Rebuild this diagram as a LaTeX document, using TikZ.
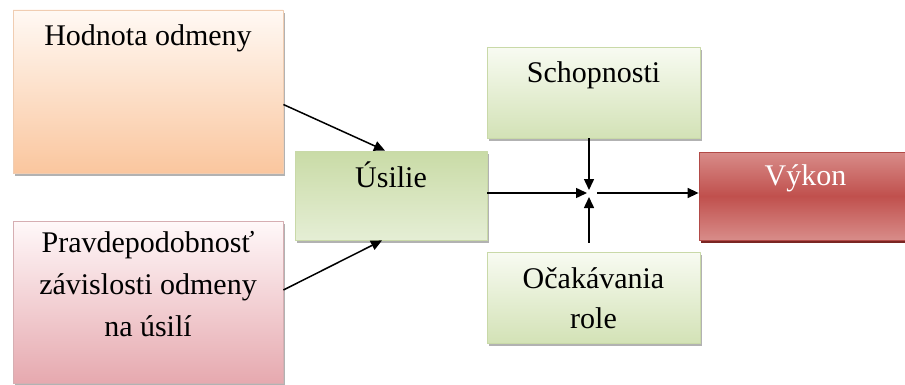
\documentclass[tikz,border=0pt]{standalone}
\usepackage{fontspec}
\setmainfont{Liberation Serif}
\usetikzlibrary{arrows.meta,shadows,calc}
\definecolor{hodtop}{HTML}{FFF9F4}
\definecolor{hodbot}{HTML}{FAC69E}
\definecolor{hodline}{HTML}{F0CDB2}
\definecolor{pratop}{HTML}{FFF8F9}
\definecolor{prabot}{HTML}{E6A9AF}
\definecolor{praline}{HTML}{D6AEB2}
\definecolor{grntop}{HTML}{F8FBF2}
\definecolor{grnbot}{HTML}{D3E2B6}
\definecolor{grnline}{HTML}{C9D9A8}
\definecolor{ustop}{HTML}{C9DBA6}
\definecolor{usbot}{HTML}{E5EED5}
\definecolor{vyktop}{HTML}{D88C89}
\definecolor{vykmid}{HTML}{C0504D}
\definecolor{vykline}{HTML}{B24A47}
\definecolor{vykshadow}{HTML}{7A2522}
\tikzset{
  box/.style={draw, line width=.8pt, inner xsep=0pt, inner ysep=0pt, align=center,
    drop shadow={shadow xshift=2pt, shadow yshift=-3pt, fill=black, opacity=.3}},
  grnbox/.style={box, draw=grnline, top color=grntop, bottom color=grnbot, minimum width=213pt},
}
\begin{document}
\begin{tikzpicture}[x=1pt, y=1pt, font=\fontsize{30}{42}\selectfont, line join=round, >={Triangle[length=11pt,width=10pt]}]
\useasboundingbox (0,0) rectangle (905,384);
\node[box, draw=hodline, top color=hodtop, bottom color=hodbot, minimum width=270pt,
  text height=35pt, text depth=128pt] (hod) at (148,292.5) {Hodnota odmeny};
\node[box, draw=praline, top color=pratop, bottom color=prabot, minimum width=270pt,
  text height=115pt, text depth=47pt] (pra) at (148,82) {Pravdepodobnosť\\závislosti odmeny\\na úsilí};
\node[box, draw=grnline, top color=ustop, bottom color=usbot, minimum width=192pt,
  text height=36pt, text depth=53pt] (us) at (391,188.5) {Úsilie};
\node[grnbox, text height=35pt, text depth=56pt] (sch) at (593.5,291.5) {Schopnosti};
\node[grnbox, text height=76pt, text depth=15pt] (oca) at (593.5,86.5) {Očakávania\\[-2pt]role};
\node[box, draw=vykline, top color=vyktop, bottom color=vyktop, middle color=vykmid, text=white,
  minimum width=213pt, text height=33pt, text depth=55pt,
  drop shadow={shadow xshift=2pt, shadow yshift=-3pt, fill=vykshadow, opacity=1}] (vyk) at (805.5,188) {Výkon};
\coordinate (j) at (589,191);
\draw[->, line width=1.5pt] ([yshift=-13pt]hod.east) -- ([xshift=-6pt]us.north);
\draw[->, line width=1.5pt] ([yshift=12pt]pra.east) -- ([xshift=-9pt]us.south);
\draw[->, line width=1.5pt] (us.east |- j) -- ([xshift=-2pt]j);
\draw[->, line width=1.5pt] (sch.south -| j) -- ([yshift=3pt]j);
\draw[->, line width=1.5pt] ($(oca.north -| j)+(0,9)$) -- ([yshift=-4pt]j);
\draw[->, line width=1.5pt] ([xshift=8pt]j) -- (vyk.west |- j);
\end{tikzpicture}
\end{document}
